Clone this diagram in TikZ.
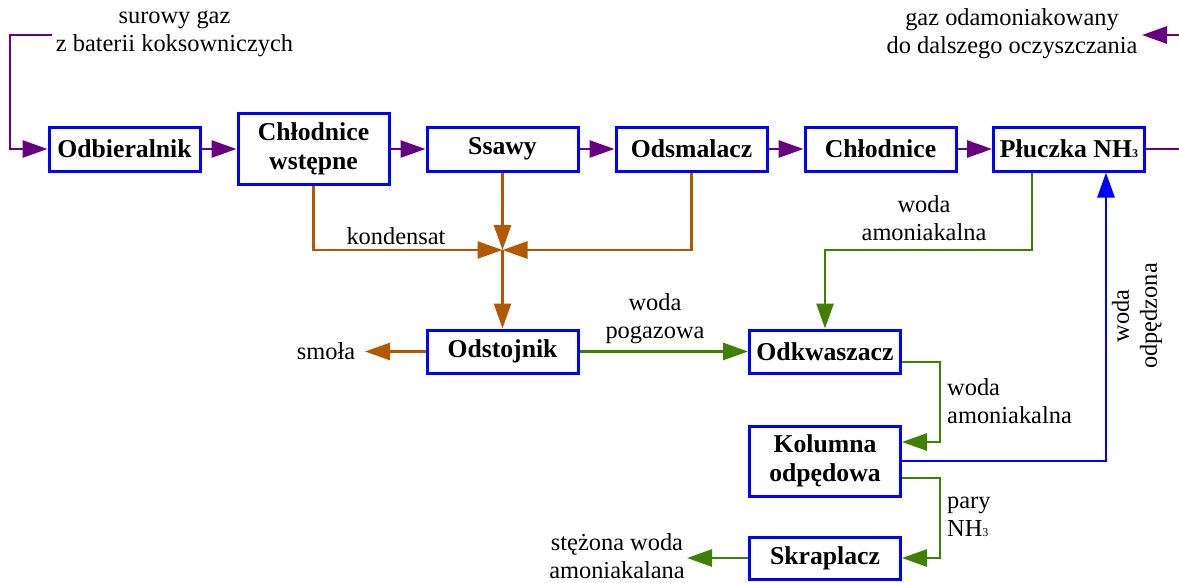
\documentclass[tikz,border=0pt]{standalone}
\usepackage{fontspec}
\setmainfont{Liberation Serif}
\usetikzlibrary{arrows.meta,calc}
\definecolor{gaspurple}{RGB}{102,0,128}
\definecolor{tarbrown}{RGB}{178,89,0}
\definecolor{watergreen}{RGB}{64,128,0}
\definecolor{boxblue}{RGB}{0,0,255}
\newcommand{\smallsub}[1]{{\fontsize{12}{12}\selectfont #1}}
\begin{document}
\begin{tikzpicture}[x=1pt,y=-1pt,
  unitbox/.style={draw=boxblue, line width=3pt, fill=white, minimum width=151pt, inner sep=0pt,
    align=center, font=\fontsize{25.7}{29}\selectfont\bfseries},
  lbl/.style={inner sep=0pt, align=center, font=\fontsize{24.4}{28}\selectfont},
  flow/.style={line width=2.7pt, -{Triangle[length=25pt,width=17pt]}},
  gasflow/.style={flow, draw=gaspurple},
  tarflow/.style={flow, draw=tarbrown},
  wflow/.style={flow, draw=watergreen},
  bflow/.style={flow, draw=boxblue},
]
\useasboundingbox (0,0) rectangle (1179,582);

% main row
\node[unitbox, minimum height=44pt] (odb) at (124.5,149) {Odbieralnik};
\node[unitbox, minimum height=71pt] (wst) at (313.5,148.5) {Chłodnice\\wstępne};
\node[unitbox, minimum height=44pt] (ssa) at (502.5,149) {Ssawy};
\node[unitbox, minimum height=44pt] (ods) at (691.5,149) {Odsmalacz};
\node[unitbox, minimum height=44pt] (chl) at (880.5,149) {Chłodnice};
\node[unitbox, minimum height=44pt] (plu) at (1069,149) {Płuczka NH\smallsub{3}};

% lower part
\node[unitbox, minimum height=43pt] (ost) at (502.5,351.5) {Odstojnik};
\node[unitbox, minimum height=43pt] (okw) at (825,351.5) {Odkwaszacz};
\node[unitbox, minimum height=70pt] (kol) at (825,461) {Kolumna\\odpędowa};
\node[unitbox, minimum height=42pt] (skr) at (825,558) {Skraplacz};

% texts
\node[lbl] (tin) at (174.5,33.5) {surowy gaz\\z baterii koksowniczych};
\node[lbl] (tout) at (1012,33.5) {gaz odamoniakowany\\do dalszego oczyszczania};
\node[lbl] (tkond) at (396,236) {kondensat};
\node[lbl] (twa1) at (924,218) {woda\\amoniakalna};
\node[lbl] (tpog) at (655,319) {woda\\pogazowa};
\node[lbl] (tsmola) at (326,351) {smoła};
\node[lbl, anchor=west, align=left] (twa2) at (947,401) {woda\\amoniakalna};
\node[lbl, anchor=west, align=left] (tpary) at (947,516.5) {pary\\NH\smallsub{3}};
\node[lbl] (tstez) at (617,556) {stężona woda\\amoniakalana};
\node[lbl, rotate=90] (todp) at (1137,316) {woda\\odpędzona};

% gas line
\coordinate (inA) at (52,35);
\coordinate (inB) at (10,35);
\draw[gasflow] (inA) -- (inB) |- (odb.west);
\draw[gasflow] (odb.east) -- (wst.west |- odb.east);
\draw[gasflow] (wst.east |- ssa.west) -- (ssa.west);
\draw[gasflow] (ssa.east) -- (ods.west);
\draw[gasflow] (ods.east) -- (chl.west);
\draw[gasflow] (chl.east) -- (plu.west);
\coordinate (outA) at (1192,149);
\coordinate (outB) at (1192,35);
\coordinate (outTip) at (1142,35);
\draw[gasflow] (plu.east) -- (outA) -- (outB) -- (outTip);

% condensate
\coordinate (J) at (502.5,250);
\draw[tarflow] (wst.south) |- (J);
\draw[tarflow] (ssa.south) -- (J);
\draw[tarflow] (ods.south) |- (J);
\draw[tarflow] (J) -- (ost.north);
\coordinate (smolaTip) at (365,351.5);
\draw[tarflow] (ost.west) -- (smolaTip);

% water
\draw[wflow] (ost.east) -- (okw.west);
\coordinate (g1) at (1032,250);
\draw[wflow] (g1 |- plu.south) -- (g1) -| (okw.north);
\coordinate (g2) at (940,362);
\coordinate (g3) at (940,442);
\draw[wflow] (okw.east |- g2) -- (g2) -- (g3) -- (kol.east |- g3);
\coordinate (g4) at (940,478);
\draw[wflow] (kol.east |- g4) -- (g4) |- (skr.east);
\coordinate (stezTip) at (687,558);
\draw[wflow] (skr.west) -- (stezTip);

% stripped water
\coordinate (b1) at (1106,461);
\draw[bflow] (kol.east |- b1) -- (b1) -- (b1 |- plu.south);
\end{tikzpicture}
\end{document}
